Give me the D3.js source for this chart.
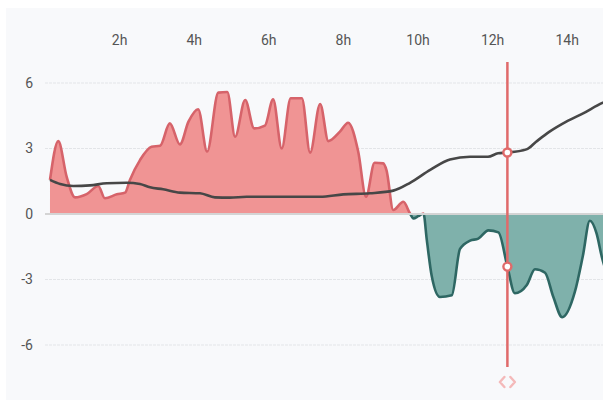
<!DOCTYPE html>
<html>
<head>
<meta charset="utf-8">
<script src="https://cdn.jsdelivr.net/npm/d3@7"></script>
<style>
  html, body { margin: 0; padding: 0; background: #ffffff; }
  svg { display: block; font-family: Roboto, "Noto Sans", sans-serif; }
</style>
</head>
<body>
<svg id="chart" width="603" height="400"></svg>
<script>
// ---- data ----
const hourTicks = [2, 4, 6, 8, 10, 12, 14];
const hourLabels = ["2h", "4h", "6h", "8h", "10h", "12h", "14h"];
const valueTicks = [-6, -3, 0, 3, 6];

const powerTimes = [0.147, 0.37, 0.595, 0.818, 1.13, 1.44, 1.62, 1.94, 2.16, 2.29, 2.56, 2.87, 3.10, 3.36, 3.63, 3.86, 4.12, 4.36, 4.66, 4.90, 5.11, 5.38, 5.62, 5.91, 6.13, 6.36, 6.60, 6.90, 7.12, 7.39, 7.61, 7.92, 8.14, 8.41, 8.62, 8.85, 9.08, 9.17, 9.35, 9.62, 9.80, 9.89, 10.02, 10.16, 10.25, 10.38, 10.60, 10.92, 11.14, 11.41, 11.63, 11.90, 12.17, 12.41, 12.61, 12.93, 13.15, 13.42, 13.64, 13.88, 14.22, 14.43, 14.62, 14.80, 14.94, 15.21];
const powerValues = [1.56, 3.34, 1.7, 0.76, 0.91, 1.28, 0.72, 0.9, 0.98, 1.56, 2.47, 3.08, 3.13, 4.15, 3.19, 4.23, 4.8, 2.86, 5.56, 5.59, 3.54, 5.22, 3.92, 4.05, 5.25, 3.0, 5.3, 5.3, 2.81, 5.04, 3.34, 3.77, 4.18, 2.86, 0.79, 2.35, 2.32, 2.0, 0.18, 0.56, 0.02, -0.2, -0.1, 0.02, -1.2, -2.83, -3.8, -3.72, -1.6, -1.22, -1.13, -0.75, -0.84, -2.41, -3.63, -3.25, -2.53, -2.69, -3.79, -4.73, -3.56, -1.95, -0.31, -0.89, -1.95, -3.4];

const balanceTimes = [0.147, 0.42, 0.77, 1.22, 1.67, 2.20, 2.56, 2.83, 3.18, 3.63, 4.17, 4.57, 4.97, 5.42, 7.39, 8.01, 8.73, 9.35, 9.80, 10.34, 10.87, 11.41, 11.89, 12.16, 12.38, 12.92, 13.18, 13.54, 13.99, 14.44, 14.97, 15.21];
const balanceValues = [1.56, 1.37, 1.28, 1.31, 1.41, 1.43, 1.37, 1.22, 1.13, 0.98, 0.95, 0.76, 0.75, 0.79, 0.79, 0.9, 0.95, 1.07, 1.43, 2.02, 2.5, 2.62, 2.62, 2.78, 2.81, 2.96, 3.31, 3.77, 4.23, 4.61, 5.1, 5.25];

const cursorTime = 12.41;

// ---- build ----
const power = powerTimes.map((t, i) => ({ t, v: powerValues[i] }));
const balance = balanceTimes.map((t, i) => ({ t, v: balanceValues[i] }));

const W = 603, H = 400;
const svg = d3.select("#chart");

const x = d3.scaleLinear().domain([0, 16]).range([44.5, 44.5 + 16 * 37.3]);
const y = d3.scaleLinear().domain([-6, 6]).range([345, 83]);

// panel
svg.append("rect").attr("x", 6).attr("y", 8).attr("width", W - 6).attr("height", H - 8).attr("fill", "#f8f9fb");

const defs = svg.append("defs");
defs.append("clipPath").attr("id", "plot").append("rect")
  .attr("x", 45).attr("y", 8).attr("width", W - 45).attr("height", H - 8);
defs.append("clipPath").attr("id", "pos").append("rect")
  .attr("x", 45).attr("y", 8).attr("width", W - 45).attr("height", y(0) - 8);
defs.append("clipPath").attr("id", "neg").append("rect")
  .attr("x", 45).attr("y", y(0)).attr("width", W - 45).attr("height", H - y(0));

// grid
const grid = svg.append("g");
grid.selectAll("line").data(valueTicks.filter(d => d !== 0)).join("line")
  .attr("x1", 45).attr("x2", W).attr("y1", d => y(d)).attr("y2", d => y(d))
  .attr("stroke", "#e3e5e8").attr("stroke-width", 1).attr("stroke-dasharray", "3,1");

// y axis labels
const yAxis = d3.axisLeft(y).tickValues(valueTicks).tickSize(0).tickPadding(0).tickFormat(d => String(d));
const ya = svg.append("g").attr("transform", "translate(33,0)").call(yAxis);
ya.select(".domain").remove();
ya.selectAll("text").attr("font-size", 14).attr("fill", "#555").attr("font-family", "Roboto, sans-serif");

// x axis labels (top)
const xAxis = d3.axisTop(x).tickValues(hourTicks).tickSize(0).tickPadding(0)
  .tickFormat((d, i) => hourLabels[i]);
const xa = svg.append("g").attr("transform", "translate(0,45)").call(xAxis);
xa.select(".domain").remove();
xa.selectAll("text").attr("font-size", 14).attr("fill", "#555").attr("font-family", "Roboto, sans-serif");

const curve = d3.curveMonotoneX;
const area = d3.area().x(d => x(d.t)).y0(y(0)).y1(d => y(d.v)).curve(curve);
const line = d3.line().x(d => x(d.t)).y(d => y(d.v)).curve(curve);

const plot = svg.append("g").attr("clip-path", "url(#plot)");

const posG = plot.append("g").attr("clip-path", "url(#pos)");
posG.append("path").datum(power).attr("d", area).attr("fill", "#f09494");
posG.append("path").datum(power).attr("d", line).attr("fill", "none")
  .attr("stroke", "#d6636a").attr("stroke-width", 2.6).attr("stroke-linejoin", "round");

const negG = plot.append("g").attr("clip-path", "url(#neg)");
negG.append("path").datum(power).attr("d", area).attr("fill", "#7fb1ab");
negG.append("path").datum(power).attr("d", line).attr("fill", "none")
  .attr("stroke", "#2e6763").attr("stroke-width", 2.6).attr("stroke-linejoin", "round");

// zero line
plot.append("line").attr("x1", 45).attr("x2", W).attr("y1", y(0)).attr("y2", y(0))
  .attr("stroke", "#d4d4d4").attr("stroke-width", 2);

// balance line
plot.append("path").datum(balance).attr("d", line).attr("fill", "none")
  .attr("stroke", "#474747").attr("stroke-width", 2.6).attr("stroke-linejoin", "round");

// cursor
function interp(data, t) {
  const i = d3.bisector(d => d.t).left(data, t);
  if (i <= 0) return data[0].v;
  if (i >= data.length) return data[data.length - 1].v;
  const a = data[i - 1], b = data[i];
  return a.v + (b.v - a.v) * (t - a.t) / (b.t - a.t);
}
const cx = x(cursorTime);
const cursorColor = "#e06a6a";
svg.append("line").attr("x1", cx).attr("x2", cx).attr("y1", 62).attr("y2", 367)
  .attr("stroke", cursorColor).attr("stroke-width", 2.5);
[interp(balance, cursorTime), interp(power, cursorTime)].forEach(v => {
  svg.append("circle").attr("cx", cx).attr("cy", y(v)).attr("r", 4)
    .attr("fill", "#ffffff").attr("stroke", cursorColor).attr("stroke-width", 2.4);
});
// handle chevrons
const hy = 382;
svg.append("path")
  .attr("d", `M${cx - 3},${hy - 5} L${cx - 7.5},${hy} L${cx - 3},${hy + 5} M${cx + 3},${hy - 5} L${cx + 7.5},${hy} L${cx + 3},${hy + 5}`)
  .attr("fill", "none").attr("stroke", "#f4b9b9").attr("stroke-width", 2.4)
  .attr("stroke-linecap", "round").attr("stroke-linejoin", "round");
</script>
</body>
</html>
